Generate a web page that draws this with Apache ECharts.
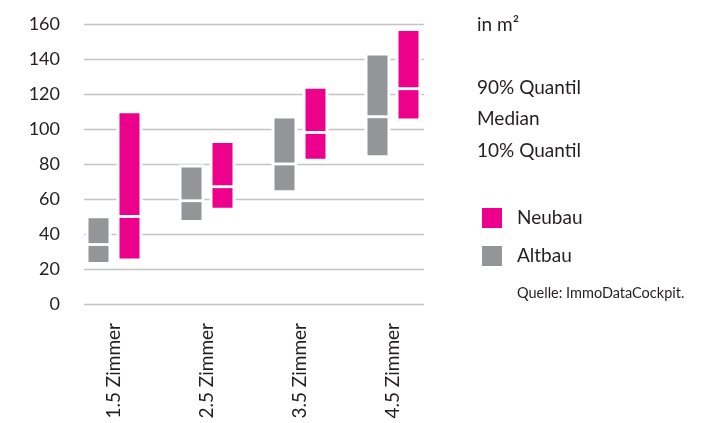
<!DOCTYPE html>
<html>
<head>
<meta charset="utf-8">
<script src="https://cdn.jsdelivr.net/npm/echarts@6/dist/echarts.min.js"></script>
<style>
  html, body { margin: 0; padding: 0; background: #fff; }
  #chart { width: 723px; height: 423px; }
</style>
</head>
<body>
<div id="chart"></div>
<script>
// Wohnungsgrößen nach Zimmerzahl, in m2
var categories = ['1.5 Zimmer', '2.5 Zimmer', '3.5 Zimmer', '4.5 Zimmer'];
var yTicks = [0, 160, 20]; // min, max, interval

var altbauP10 = [24, 48, 65, 85];
var altbauMedian = [34, 59, 80, 107];
var altbauP90 = [49, 78, 106, 142];

var neubauP10 = [26, 55, 83, 106];
var neubauMedian = [50, 67, 98, 123];
var neubauP90 = [109, 92, 123, 156];

var pink = '#EC008C';
var grey = '#939598';
var textColor = '#231F20';
var font = 'Lato';

function toRows(p10, med, p90) {
    return categories.map(function (c, i) {
        return [i, p10[i], med[i], p90[i]];
    });
}

// offset: Anteil der Kategoriebreite links/rechts von der Mitte
function makeRender(offset, color) {
    return function (params, api) {
        var idx = api.value(0);
        var bottom = api.coord([idx, api.value(1)]);
        var mid = api.coord([idx, api.value(2)]);
        var top = api.coord([idx, api.value(3)]);
        var band = api.size([1, 0])[0];
        var w = band * 0.215;
        var cx = bottom[0] + band * offset;
        var x = cx - w / 2;
        var gap = 1.4;
        return {
            type: 'group',
            children: [
                {   // weisser Rand, unterbricht die Gitterlinien
                    type: 'rect',
                    shape: { x: x - 3, y: top[1] - 3, width: w + 6, height: bottom[1] - top[1] + 6 },
                    style: { fill: '#fff' }
                },
                {
                    type: 'rect',
                    shape: { x: x, y: top[1], width: w, height: mid[1] - top[1] - gap },
                    style: { fill: color }
                },
                {
                    type: 'rect',
                    shape: { x: x, y: mid[1] + gap, width: w, height: bottom[1] - mid[1] - gap },
                    style: { fill: color }
                }
            ]
        };
    };
}

var chart = echarts.init(document.getElementById('chart'));

var option = {
    animation: false,
    grid: [
        // Balken
        { left: 67.5, width: 372, top: 24, height: 280 },
        // Gitterlinien + Achsenbeschriftung
        { left: 84, width: 340, top: 24, height: 280 }
    ],
    xAxis: [
        {
            type: 'category',
            gridIndex: 0,
            data: categories,
            axisLine: { show: false },
            axisTick: { show: false },
            axisLabel: {
                rotate: 90,
                margin: 19,
                fontSize: 19,
                fontFamily: font,
                color: textColor
            }
        },
        {
            type: 'category',
            gridIndex: 1,
            data: [''],
            show: false
        }
    ],
    yAxis: [
        {
            type: 'value',
            gridIndex: 0,
            min: yTicks[0],
            max: yTicks[1],
            interval: yTicks[2],
            show: false,
            splitLine: { show: false }
        },
        {
            type: 'value',
            gridIndex: 1,
            min: yTicks[0],
            max: yTicks[1],
            interval: yTicks[2],
            axisLine: { show: false },
            axisTick: { show: false },
            axisLabel: {
                margin: 24,
                fontSize: 18,
                fontFamily: font,
                color: textColor
            },
            splitLine: { lineStyle: { color: '#c4c4c4', width: 1.3 } }
        }
    ],
    legend: {
        orient: 'vertical',
        left: 477,
        top: 203,
        itemWidth: 20,
        itemHeight: 20,
        itemGap: 18,
        icon: 'rect',
        selectedMode: false,
        data: ['Neubau', 'Altbau'],
        textStyle: {
            fontSize: 19,
            fontFamily: font,
            color: textColor,
            padding: [0, 0, 0, 10]
        }
    },
    graphic: [
        { type: 'text', left: 477, top: 15, style: { text: 'in m²', fontSize: 19, fontFamily: font, fill: textColor } },
        { type: 'text', left: 477, top: 78, style: { text: '90% Quantil', fontSize: 19, fontFamily: font, fill: textColor } },
        { type: 'text', left: 477, top: 109, style: { text: 'Median', fontSize: 19, fontFamily: font, fill: textColor } },
        { type: 'text', left: 477, top: 141, style: { text: '10% Quantil', fontSize: 19, fontFamily: font, fill: textColor } },
        { type: 'text', left: 517, top: 286, style: { text: 'Quelle: ImmoDataCockpit.', fontSize: 14.5, fontFamily: font, fill: textColor } }
    ],
    series: [
        {
            name: 'Altbau',
            type: 'custom',
            xAxisIndex: 0,
            yAxisIndex: 0,
            itemStyle: { color: grey },
            renderItem: makeRender(-1 / 6, grey),
            data: toRows(altbauP10, altbauMedian, altbauP90),
            z: 5
        },
        {
            name: 'Neubau',
            type: 'custom',
            xAxisIndex: 0,
            yAxisIndex: 0,
            itemStyle: { color: pink },
            renderItem: makeRender(1 / 6, pink),
            data: toRows(neubauP10, neubauMedian, neubauP90),
            z: 5
        }
    ]
};

chart.setOption(option);
</script>
</body>
</html>
